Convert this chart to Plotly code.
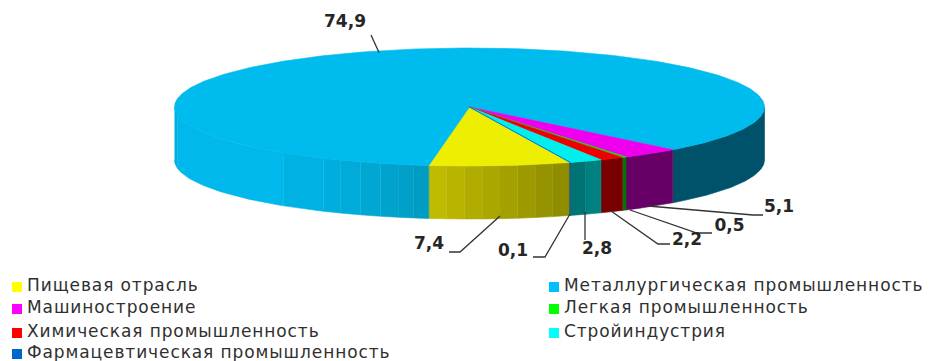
import math
import plotly.graph_objects as go

# Categories in legend order, which is also clockwise slice order.
categories = ["Пищевая отрасль", "Металлургическая промышленность", "Машиностроение",
              "Легкая промышленность", "Химическая промышленность", "Стройиндустрия",
              "Фармацевтическая промышленность"]
# Values printed on the chart.
printed_values = [7.4, 74.9, 5.1, 0.5, 2.2, 2.8, 0.1]
# Slice sizes as drawn in the picture (%), which differ from the printed values.
drawn_shares = [7.7, 85.7, 3.2, 0.22, 1.33, 1.8, 0.05]
top_colors = ["#EEEE00", "#00BBEE", "#EE00EE", "#00EE00", "#EE0000", "#00EEEE", "#0066CC"]
legend_colors = ["#FFFF00", "#00BFFF", "#FF00FF", "#00FF00", "#FF0000", "#00FFFF", "#0066CC"]

CX, CY, A, B, DEPTH = 469.5, 107.0, 295.0, 59.0, 53.0
START = 19.8  # angle from the front of the pie, positive to the right
PAGE_MARGIN = 8  # the browser's default body margin


def pt(phi, dy=0.0):
    r = math.radians(phi)
    return CX + A * math.sin(r), CY + B * math.cos(r) + dy


def arc(p0, p1, dy=0.0, step=1.0):
    n = max(2, int(abs(p1 - p0) / step) + 2)
    return [pt(p0 + (p1 - p0) * i / (n - 1), dy) for i in range(n)]


def mix(c0, c1, t):
    return "rgb(%d,%d,%d)" % tuple(round(a + (b - a) * t) for a, b in zip(c0, c1))


fig = go.Figure()


def poly(points, color, line=0.6):
    fig.add_trace(go.Scatter(x=[p[0] for p in points], y=[p[1] for p in points], mode="lines",
                             fill="toself", fillcolor=color, hoverinfo="skip",
                             line=dict(color=color, width=line), showlegend=False))


def wall(p0, p1, color):
    poly(arc(p0, p1) + arc(p1, p0, DEPTH), color)


# Slice angles, going clockwise on screen from the start angle.
spans, cur = [], START
for s in drawn_shares:
    nxt = cur - s * 3.6
    spans.append((nxt, cur))
    cur = nxt

# Side walls.
flat_walls = {2: "#660066", 3: "#007700", 4: "#780000", 6: "#003C78"}
for i, (lo, hi) in enumerate(spans):
    if i == 0:  # yellow: bands darkening to the right
        nb = 8
        for k in range(nb):
            wall(lo + (hi - lo) * k / nb, lo + (hi - lo) * (k + 1) / nb,
                 mix((194, 190, 0), (140, 137, 0), (k + 0.5) / nb))
    elif i == 1:  # the large slice: left and right of the front
        right_start = lo + 360
        wall(right_start, 90, "#00526A")
        wall(-90, -82, "#00AEDD")
        wall(-82, -39, "#00B8EC")
        edges = [-39, -29.7, -26, -21.7, -17.6, -14, -11, hi]
        for k in range(len(edges) - 1):
            wall(edges[k], edges[k + 1], mix((0, 178, 228), (0, 156, 194), k / (len(edges) - 2)))
    elif i == 5:  # cyan: two close shades
        mid = (lo + hi) / 2
        wall(mid, hi, "#008080")
        wall(lo, mid, "#007474")
    else:
        wall(lo, hi, flat_walls[i])

# Top faces.
for i, (lo, hi) in enumerate(spans):
    poly([(CX, CY)] + arc(hi, lo) + [(CX, CY)], top_colors[i])

# Leader lines and value labels, in the same order as the categories.
leaders = [
    [(449, 252), (460, 252), (500, 216)],
    [(371, 35), (379, 52.5)],
    [(648, 206), (753, 215), (763, 215)],
    [(630, 210), (697, 233), (712, 233)],
    [(611, 211), (658, 244), (670, 244)],
    [(585, 212), (585, 240)],
    [(533, 257), (545, 257), (570, 214)],
]
label_pos = [(429, 245), (345, 23), (779, 208), (729.5, 227), (687, 240.5), (597, 250), (513, 252)]
for path in leaders:
    fig.add_trace(go.Scatter(x=[p[0] for p in path], y=[p[1] for p in path], mode="lines",
                             line=dict(color="#333333", width=1.3), hoverinfo="skip", showlegend=False))
fig.add_trace(go.Scatter(x=[p[0] for p in label_pos], y=[p[1] for p in label_pos], mode="text",
                         text=[f"{v:.1f}".replace(".", ",") for v in printed_values],
                         textposition="middle center", hoverinfo="skip", showlegend=False,
                         textfont=dict(family="DejaVu Sans", size=17, color="#262626", weight="bold")))

# Legend: two columns, four rows.
col_x = [17, 554]
text_gap = 10
row_y = [287, 309, 333, 354]
lx = [col_x[i % 2] for i in range(len(categories))]
ly = [row_y[i // 2] for i in range(len(categories))]
fig.add_trace(go.Scatter(x=lx, y=ly, mode="markers", hoverinfo="skip", showlegend=False, cliponaxis=False,
                         marker=dict(symbol="square", size=10, color=legend_colors)))
fig.add_trace(go.Scatter(x=[x + text_gap for x in lx], y=ly, mode="text", text=categories,
                         textposition="middle right", hoverinfo="skip", showlegend=False, cliponaxis=False,
                         textfont=dict(family="DejaVu Sans", size=17, color="#303030")))

fig.update_layout(width=934 - PAGE_MARGIN, height=361 - PAGE_MARGIN, margin=dict(l=0, r=0, t=0, b=0),
                  paper_bgcolor="white", plot_bgcolor="white", showlegend=False,
                  xaxis=dict(range=[PAGE_MARGIN, 934], visible=False, fixedrange=True),
                  yaxis=dict(range=[361, PAGE_MARGIN], visible=False, fixedrange=True))
spacing_css = ("var s=document.createElement('style');"
               "s.textContent='.scatterlayer .trace:last-child .textpoint text{letter-spacing:0.9px}';"
               "document.head.appendChild(s);")
fig.write_html("out.html", config={"displayModeBar": False}, post_script=spacing_css)
